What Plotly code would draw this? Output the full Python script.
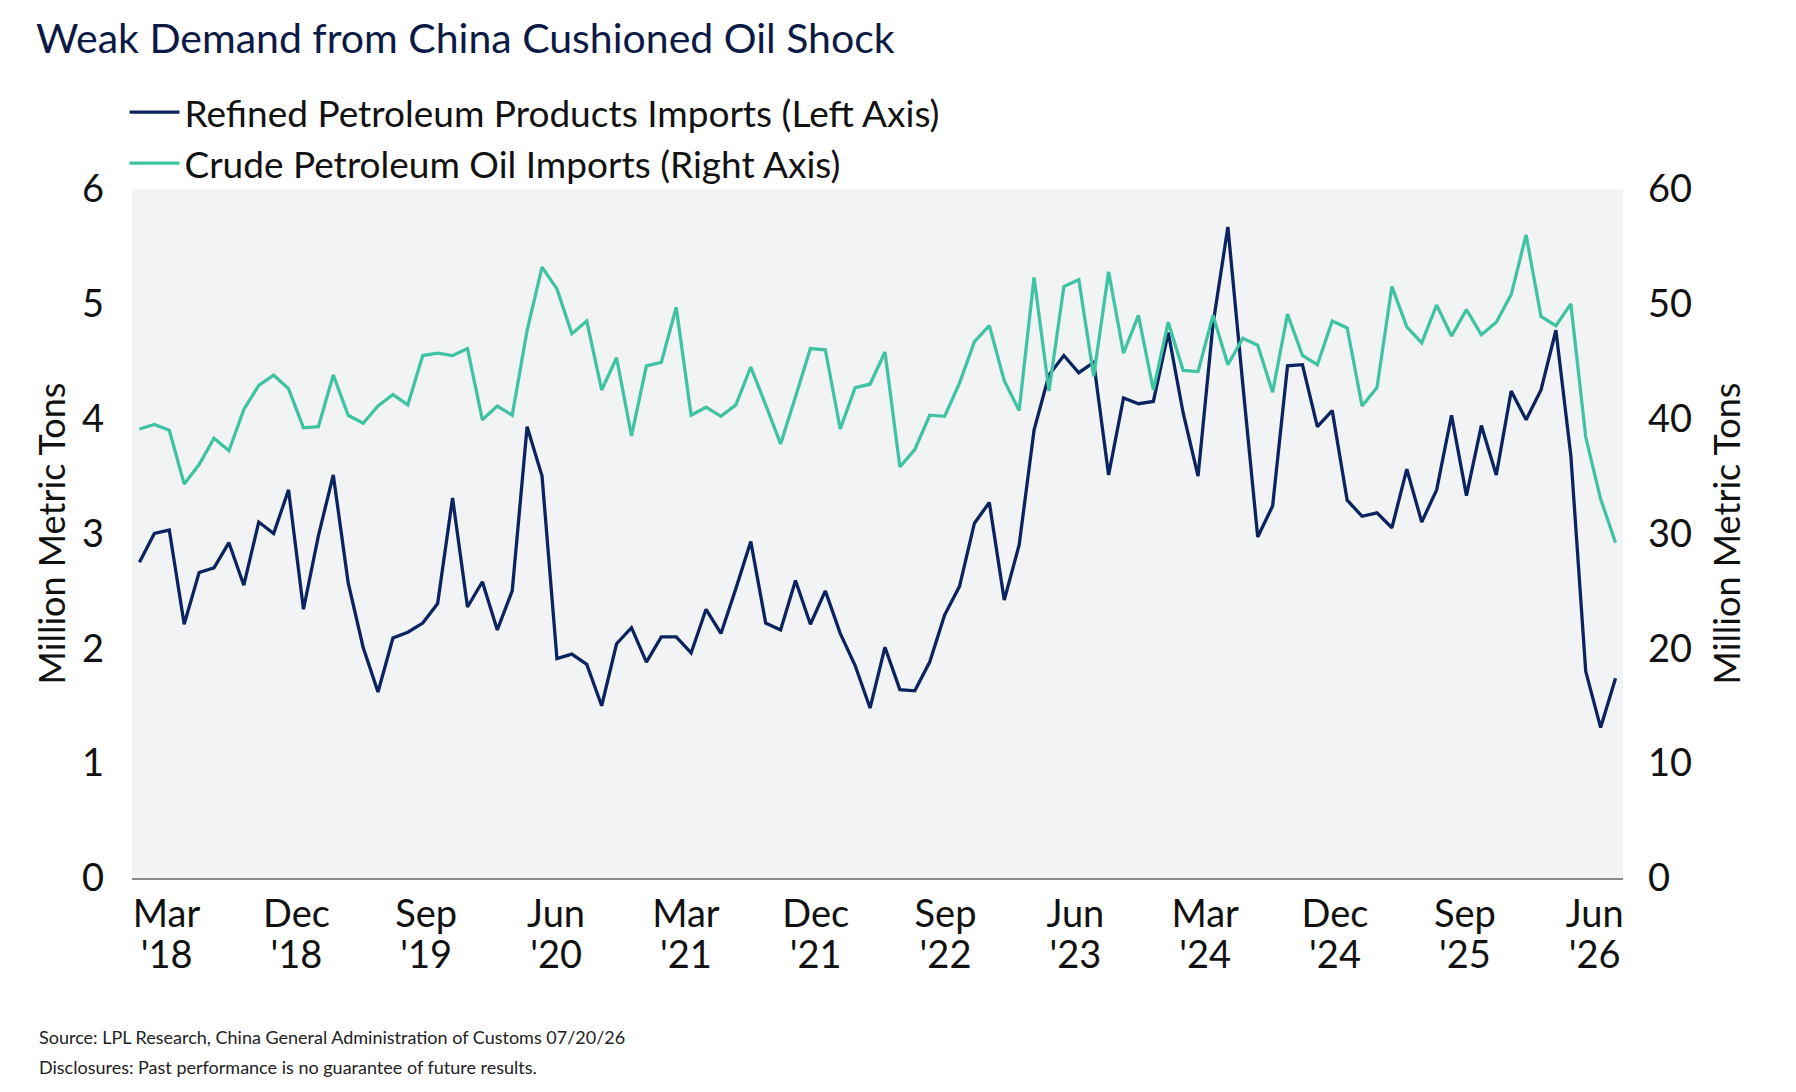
import numpy as np
import pandas as pd
import plotly.graph_objects as go

# Monthly observations, Mar 2018 - Jun 2026
months = pd.date_range("2018-03-01", periods=100, freq="MS").strftime("%b %Y").tolist()

refined_imports = [
    2.75, 3.00, 3.03, 2.21, 2.66, 2.70, 2.92, 2.55, 3.10, 3.00,
    3.38, 2.34, 2.98, 3.51, 2.57, 2.01, 1.62, 2.09, 2.14, 2.22,
    2.39, 3.31, 2.36, 2.58, 2.16, 2.50, 3.93, 3.50, 1.91, 1.95,
    1.86, 1.50, 2.04, 2.18, 1.88, 2.10, 2.10, 1.96, 2.34, 2.13,
    2.52, 2.93, 2.22, 2.16, 2.59, 2.21, 2.50, 2.13, 1.85, 1.48,
    2.01, 1.64, 1.63, 1.88, 2.29, 2.54, 3.09, 3.27, 2.42, 2.90,
    3.90, 4.38, 4.55, 4.40, 4.49, 3.51, 4.18, 4.13, 4.15, 4.75,
    4.05, 3.50, 4.82, 5.67, 4.30, 2.97, 3.24, 4.46, 4.47, 3.93,
    4.07, 3.29, 3.15, 3.18, 3.05, 3.56, 3.10, 3.38, 4.03, 3.33,
    3.94, 3.51, 4.24, 3.99, 4.25, 4.77, 3.68, 1.80, 1.31, 1.74,
]

crude_imports = [
    39.1, 39.5, 39.0, 34.3, 36.0, 38.3, 37.2, 40.8, 42.9, 43.8,
    42.6, 39.2, 39.3, 43.8, 40.3, 39.6, 41.1, 42.1, 41.2, 45.5,
    45.7, 45.5, 46.1, 39.9, 41.1, 40.3, 47.7, 53.2, 51.3, 47.4,
    48.5, 42.5, 45.3, 38.5, 44.6, 44.9, 49.7, 40.3, 41.0, 40.2,
    41.2, 44.5, 41.2, 37.8, 41.9, 46.1, 46.0, 39.1, 42.7, 43.0,
    45.8, 35.8, 37.3, 40.3, 40.2, 43.1, 46.7, 48.1, 43.3, 40.7,
    52.3, 42.4, 51.5, 52.1, 43.7, 52.8, 45.7, 49.0, 42.5, 48.4,
    44.2, 44.1, 49.0, 44.7, 47.0, 46.4, 42.3, 49.1, 45.5, 44.7,
    48.5, 47.9, 41.1, 42.7, 51.5, 48.0, 46.6, 49.9, 47.2, 49.5,
    47.3, 48.4, 50.8, 56.0, 48.9, 48.1, 50.0, 38.4, 33.0, 29.2,
]

tick_months = ["Mar", "Dec", "Sep", "Jun", "Mar", "Dec", "Sep", "Jun", "Mar", "Dec", "Sep", "Jun"]
tick_years = ["'18", "'18", "'19", "'20", "'21", "'21", "'22", "'23", "'24", "'24", "'25", "'26"]
left_ticks = [0, 1, 2, 3, 4, 5, 6]
right_ticks = [0, 10, 20, 30, 40, 50, 60]

NAVY = "#0b2460"
TEAL = "#40c3a2"
FONT = "Lato, 'Open Sans', sans-serif"
TXT = "#111111"

x_idx = np.arange(len(months))
tick_pos = np.linspace(1.82, 97.6, len(tick_months))
x_range = [-0.5, len(months) - 0.5]

fig = go.Figure()
fig.add_trace(go.Scatter(
    x=x_idx, y=refined_imports, mode="lines", name="Refined Petroleum Products Imports (Left Axis)",
    line=dict(color=NAVY, width=3.3), customdata=months, hovertemplate="%{customdata}: %{y}<extra></extra>",
))
fig.add_trace(go.Scatter(
    x=x_idx, y=crude_imports, mode="lines", name="Crude Petroleum Oil Imports (Right Axis)",
    line=dict(color=TEAL, width=3.3), xaxis="x2", yaxis="y2", customdata=months,
    hovertemplate="%{customdata}: %{y}<extra></extra>",
))

fig.update_layout(
    width=1796, height=1092,
    margin=dict(l=132, r=173, t=189, b=213.5, autoexpand=False),
    paper_bgcolor="white", plot_bgcolor="#f2f3f5",
    font=dict(family=FONT, color=TXT),
    title=dict(text="Weak Demand from China Cushioned Oil Shock", x=0.02, xanchor="left",
               y=0.965, yanchor="middle", font=dict(size=41, color="#0b1a45", family=FONT)),
    showlegend=True,
    legend=dict(x=-0.005, y=1.156, xanchor="left", yanchor="top", bgcolor="rgba(0,0,0,0)",
                font=dict(size=37, color=TXT), traceorder="normal", itemwidth=50,
                tracegroupgap=0),
    xaxis=dict(
        range=x_range,
        tickmode="array", tickvals=tick_pos, ticktext=tick_months,
        showgrid=False, zeroline=False, showline=True, linecolor="#8a8a8a", linewidth=2,
        ticks="", tickfont=dict(size=38, color=TXT), ticklabelstandoff=1,
    ),
    xaxis2=dict(
        range=x_range, overlaying="x", anchor="y2", side="bottom",
        tickmode="array", tickvals=tick_pos, ticktext=tick_years,
        showgrid=False, zeroline=False, showline=False,
        ticks="outside", ticklen=42, tickcolor="rgba(0,0,0,0)",
        tickfont=dict(size=38, color=TXT), ticklabelstandoff=1,
    ),
    yaxis=dict(
        range=[0, 6], tickvals=left_ticks, showgrid=False, zeroline=False,
        tickfont=dict(size=38, color=TXT), ticklabelstandoff=27,
        title=dict(text="Million Metric Tons", font=dict(size=36, color=TXT), standoff=5),
    ),
    yaxis2=dict(
        range=[0, 60], tickvals=right_ticks, overlaying="y", side="right", anchor="x2",
        showgrid=False, zeroline=False, tickfont=dict(size=38, color=TXT), ticklabelstandoff=24,
        title=dict(text="Million Metric Tons", font=dict(size=36, color=TXT), standoff=23),
    ),
)

fig.add_annotation(text="Source: LPL Research, China General Administration of Customs 07/20/26",
                   xref="paper", yref="paper", x=-0.064, y=-0.231, xanchor="left", yanchor="middle",
                   showarrow=False, font=dict(size=18, color="#222222", family=FONT))
fig.add_annotation(text="Disclosures: Past performance is no guarantee of future results.",
                   xref="paper", yref="paper", x=-0.064, y=-0.274, xanchor="left", yanchor="middle",
                   showarrow=False, font=dict(size=18, color="#222222", family=FONT))

fig.write_html("out.html")
